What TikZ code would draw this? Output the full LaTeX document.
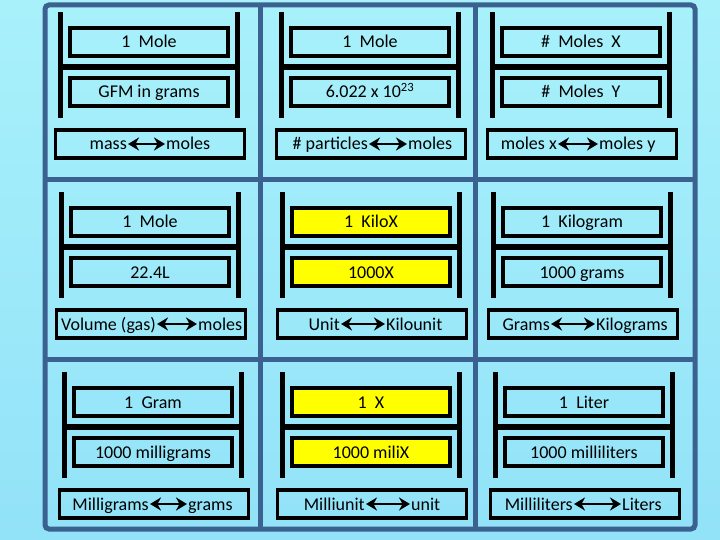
\documentclass[tikz,border=0pt]{standalone}
\usepackage{fontspec}
\setmainfont{Carlito}
\usepackage{tikz}
\usetikzlibrary{arrows.meta}
\definecolor{framebl}{HTML}{3B6190}
\definecolor{bgtop}{HTML}{A8F1FB}
\definecolor{bgmid}{HTML}{7CCAEE}
\definecolor{bgbot}{HTML}{92E2F8}
\definecolor{keyyel}{HTML}{FFFF00}
\tikzset{
  outlined/.style={draw, line width=3.5pt, minimum height=28pt,
    inner sep=0pt, text height=13pt, text depth=1pt},
  ratiobox/.style={outlined, minimum width=158pt},
  sumbox/.style={outlined, minimum width=189pt},
  wordnode/.style={inner xsep=1pt, inner ysep=0pt, text height=13pt, text depth=1pt},
  rack/.style={line width=5.5pt},
  convarrow/.style={line width=2.5pt, {Stealth[length=11pt,width=13pt]}-{Stealth[length=11pt,width=13pt]}},
  cellframe/.style={draw=framebl, line width=5pt}
}
% #1 name, #2 centre x, #3 top box y, #4 top, #5 middle, #6 #7 words, #8 #9 arrow ends
\newcommand{\convcell}[9]{%
  \draw[rack] (#2-88.5,#3-30) -- (#2-88.5,#3+76);
  \draw[rack] (#2+88.5,#3-30) -- (#2+88.5,#3+76);
  \draw[rack] (#2-88.5,#3+25) -- (#2+88.5,#3+25);
  \node[ratiobox] (#1top) at (#2,#3) {#4};
  \node[ratiobox] (#1mid) at (#2,#3+50) {#5};
  \node[sumbox] (#1sum) at (#2+1,#3+102) {};
  \node[wordnode, anchor=east] (#1left) at (#8,#3+102) {#6};
  \node[wordnode, anchor=west] (#1right) at (#9,#3+102) {#7};
  \draw[convarrow] (#1left) -- (#1right);
}

\begin{document}
\begin{tikzpicture}[x=1pt, y=-1pt, font=\fontsize{18}{22}\selectfont]
  \useasboundingbox (0,0) rectangle (720,540);
  \shade[top color=bgtop, middle color=bgmid, bottom color=bgbot] (0,0) rectangle (720,540);
  % grid of cells
  \draw[cellframe, rounded corners=4pt] (45,5) rectangle (695,529);
  \draw[cellframe] (260,5) -- (260,529);
  \draw[cellframe] (475,5) -- (475,529);
  \draw[cellframe] (45,180) -- (695,180);
  \draw[cellframe] (45,359) -- (695,359);

  \convcell{molemass}{149}{42}{1~~Mole}{GFM in grams}{mass}{moles}{128}{165}
  \convcell{moleparticle}{370}{42}{1~~Mole}{6.022 x 10\textsuperscript{23}}{\# particles}{moles}{369}{407}
  \convcell{moleratio}{581}{42}{\#~~Moles~~X}{\#~~Moles~~Y}{moles x}{moles y}{558}{598}

  \convcell{molegas}{150}{222}{1~~Mole}{22.4L}{Volume (gas)}{moles}{157}{197}
  \begin{scope}[ratiobox/.append style={fill=keyyel}]
    \convcell{kilo}{371}{222}{1~~KiloX}{1000X}{Unit}{Kilounit}{341}{385}
  \end{scope}
  \convcell{kilogram}{582}{222}{1~~Kilogram}{1000 grams}{Grams}{Kilograms}{551}{595}

  \convcell{milligram}{153}{402}{1~~Gram}{1000 milligrams}{Milligrams}{grams}{150}{187}
  \begin{scope}[ratiobox/.append style={fill=keyyel}]
    \convcell{milli}{371}{402}{1~~X}{1000 miliX}{Milliunit}{unit}{366}{410}
  \end{scope}
  \convcell{milliliter}{584}{402}{1~~Liter}{1000 milliliters}{Milliliters}{Liters}{574}{621}
\end{tikzpicture}
\end{document}
